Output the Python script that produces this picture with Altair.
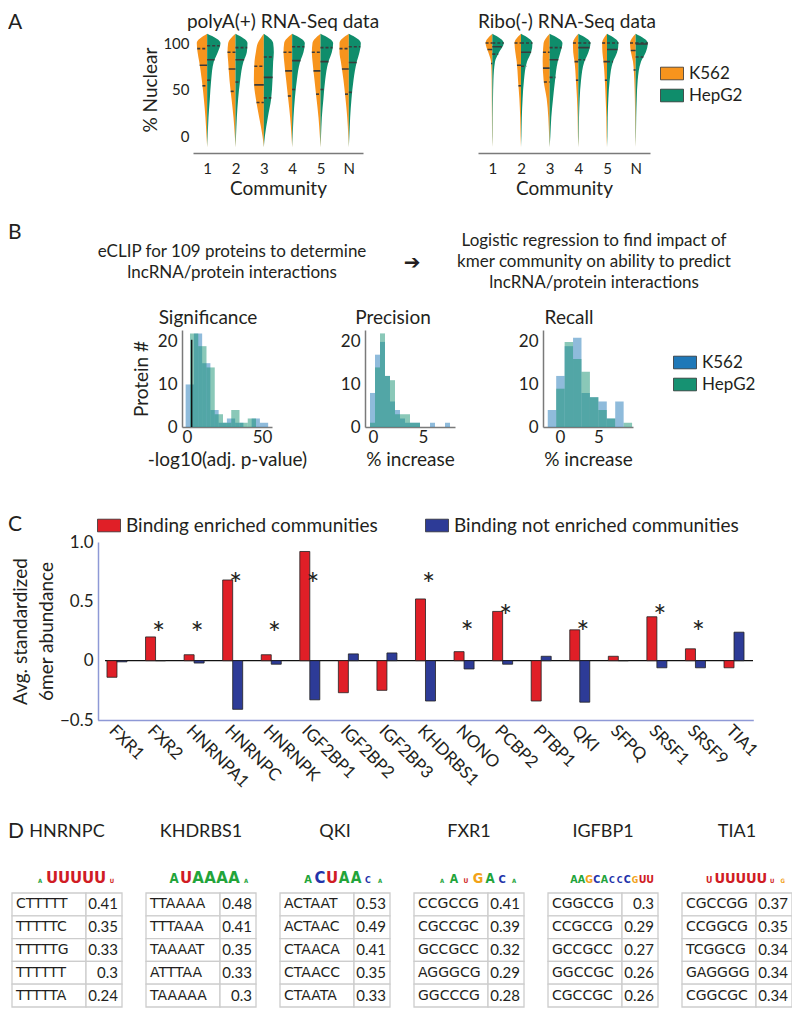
import altair as alt
import numpy as np
import pandas as pd

W, H = 784, 1000
FONT = "Lato"
INK = "#231f20"
ORANGE = "#f7941d"
GREEN = "#0f8d6b"
BLUE_B = "#1f78b8"
GREEN_B = "#169272"
RED_C = "#e01f27"
BLUE_C = "#2d3b97"
AXC = "#7a7a7a"
AXC_C = "#8e99d6"
RECT = "M-1,-0.55H1V0.55H-1Z"


def X(v):
    return v - 8


def Y(v):
    return v - 8


# ---------------- Panel A data ----------------
communities = [1, 2, 3, 4, 5, 6]
community_labels = ["1", "2", "3", "4", "5", "N"]
levels = [-12, 0, 20, 40, 60, 80, 90, 100, 110]

polyA_K562 = [
    [0, 0.05, 0.13, 0.25, 0.40, 0.60, 0.72, 0.78, 0],
    [0, 0.05, 0.15, 0.30, 0.45, 0.55, 0.60, 0.55, 0],
    [0, 0.10, 0.35, 0.60, 0.75, 0.70, 0.60, 0.45, 0],
    [0, 0.05, 0.15, 0.30, 0.45, 0.60, 0.65, 0.60, 0],
    [0, 0.05, 0.15, 0.30, 0.45, 0.60, 0.65, 0.60, 0],
    [0, 0.04, 0.12, 0.25, 0.40, 0.60, 0.70, 0.70, 0],
]
polyA_HepG2 = [
    [0, 0.04, 0.10, 0.20, 0.30, 0.50, 0.80, 1.00, 0],
    [0, 0.04, 0.10, 0.20, 0.35, 0.60, 0.85, 0.90, 0],
    [0, 0.08, 0.30, 0.55, 0.65, 0.70, 0.75, 0.70, 0],
    [0, 0.04, 0.10, 0.20, 0.35, 0.60, 0.85, 0.95, 0],
    [0, 0.04, 0.10, 0.22, 0.35, 0.60, 0.85, 0.95, 0],
    [0, 0.04, 0.10, 0.20, 0.35, 0.60, 0.80, 0.90, 0],
]
polyA_K562_q = [[54, 76, 94], [48, 72, 90], [36, 55, 75], [43, 70, 90], [45, 70, 90], [45, 72, 94]]
polyA_HepG2_q = [[60, 82, 97], [58, 82, 95], [41, 63, 85], [50, 81, 96], [50, 80, 95], [47, 79, 96]]

ribo_K562 = [
    [0, 0.02, 0.03, 0.04, 0.05, 0.10, 0.30, 0.50, 0],
    [0, 0.03, 0.06, 0.12, 0.22, 0.32, 0.42, 0.48, 0],
    [0, 0.04, 0.10, 0.22, 0.45, 0.52, 0.50, 0.45, 0],
    [0, 0.03, 0.05, 0.10, 0.18, 0.28, 0.38, 0.40, 0],
    [0, 0.03, 0.05, 0.10, 0.16, 0.26, 0.34, 0.36, 0],
    [0, 0.02, 0.04, 0.06, 0.10, 0.20, 0.35, 0.42, 0],
]
ribo_HepG2 = [
    [0, 0.02, 0.03, 0.05, 0.08, 0.20, 0.50, 0.85, 0],
    [0, 0.03, 0.06, 0.12, 0.22, 0.45, 0.75, 0.85, 0],
    [0, 0.05, 0.12, 0.25, 0.40, 0.60, 0.80, 0.95, 0],
    [0, 0.03, 0.05, 0.10, 0.20, 0.45, 0.75, 0.90, 0],
    [0, 0.03, 0.05, 0.10, 0.20, 0.45, 0.75, 0.85, 0],
    [0, 0.02, 0.04, 0.08, 0.15, 0.40, 0.75, 0.90, 0],
]
ribo_K562_q = [[78, 93, 100], [54, 76, 100], [58, 73, 90], [60, 80, 100], [60, 80, 100], [71, 92, 100]]
ribo_HepG2_q = [[88, 96, 100], [75, 90, 100], [63, 82, 95], [82, 95, 100], [80, 93, 100], [85, 99, 100]]

# ---------------- Panel B data ----------------
sig_edges_K562 = [-0.9, 4.6, 10.1, 15.6, 21.1, 26.6, 32.1, 37.6, 43.1, 48.6, 54.1]
sig_counts_K562 = [10, 22, 15, 4, 1, 2, 1, 0, 2, 1]
sig_edges_HepG2 = [2.0, 7.5, 13.0, 18.5, 24.0, 29.5, 35.0, 40.5, 46.0, 51.5]
sig_counts_HepG2 = [22, 19, 14, 3, 1, 4, 1, 2, 0]
sig_threshold = [3.1]
sig_threshold_height = [20.5]

prec_edges = [-0.3, 0.2, 0.7, 1.2, 1.7, 2.2, 2.7, 3.2, 3.7, 4.2, 4.7, 5.2, 5.7, 6.2, 6.7, 7.2, 7.7, 8.2]
prec_counts_K562 = [8, 17, 20, 12, 6, 4, 2, 1, 1, 1, 0, 0, 1, 0, 0, 1, 0]
prec_counts_HepG2 = [1, 14, 22, 12, 11, 3, 3, 3, 1, 1, 0, 0, 0, 0, 0, 0, 0]

rec_edges = [-1.6, -0.5, 0.6, 1.7, 2.8, 3.9, 5.0, 6.1, 7.2, 8.3, 9.4]
rec_counts_K562 = [4, 12, 19, 21, 8, 7, 6, 2, 6, 0]
rec_counts_HepG2 = [0, 9, 20, 16, 13, 7, 4, 2, 0, 1]

# ---------------- Panel C data ----------------
proteins = ["FXR1", "FXR2", "HNRNPA1", "HNRNPC", "HNRNPK", "IGF2BP1", "IGF2BP2", "IGF2BP3",
            "KHDRBS1", "NONO", "PCBP2", "PTBP1", "QKI", "SFPQ", "SRSF1", "SRSF9", "TIA1"]
enriched = [-0.14, 0.20, 0.05, 0.68, 0.05, 0.92, -0.27, -0.25, 0.52, 0.076, 0.415, -0.34,
            0.26, 0.037, 0.37, 0.10, -0.06]
not_enriched = [-0.01, 0.0, -0.02, -0.41, -0.03, -0.33, 0.057, 0.065, -0.34, -0.07, -0.03,
                0.037, -0.35, 0.0, -0.06, -0.06, 0.24]
star_proteins = ["FXR2", "HNRNPA1", "HNRNPC", "HNRNPK", "IGF2BP1", "KHDRBS1", "NONO", "PCBP2",
                 "QKI", "SRSF1", "SRSF9"]
star_levels = [0.28, 0.28, 0.70, 0.28, 0.70, 0.70, 0.29, 0.43, 0.29, 0.43, 0.29]

# ---------------- Panel D data ----------------
motif_proteins = ["HNRNPC", "KHDRBS1", "QKI", "FXR1", "IGFBP1", "TIA1"]
kmers = [
    ["CTTTTT", "TTTTTC", "TTTTTG", "TTTTTT", "TTTTTA"],
    ["TTAAAA", "TTTAAA", "TAAAAT", "ATTTAA", "TAAAAA"],
    ["ACTAAT", "ACTAAC", "CTAACA", "CTAACC", "CTAATA"],
    ["CCGCCG", "CGCCGC", "GCCGCC", "AGGGCG", "GGCCCG"],
    ["CGGCCG", "CCGCCG", "GCCGCC", "GGCCGC", "CGCCGC"],
    ["CGCCGG", "CCGGCG", "TCGGCG", "GAGGGG", "CGGCGC"],
]
kmer_scores = [
    [0.41, 0.35, 0.33, 0.3, 0.24],
    [0.48, 0.41, 0.35, 0.33, 0.3],
    [0.53, 0.49, 0.41, 0.35, 0.33],
    [0.41, 0.39, 0.32, 0.29, 0.28],
    [0.3, 0.29, 0.27, 0.26, 0.26],
    [0.37, 0.35, 0.34, 0.34, 0.34],
]
logo_letters = [
    ["A", "U", "U", "U", "U", "U", "U"],
    ["A", "U", "A", "A", "A", "A", "A"],
    ["A", "C", "U", "A", "A", "C", "A"],
    ["A", "A", "U", "G", "A", "C", "A"],
    ["A", "A", "G", "C", "A", "C", "C", "C", "G", "U", "U"],
    ["U", "U", "U", "U", "U", "U", "U", "G"],
]
logo_bits = [
    [0.35, 1.9, 1.9, 1.9, 1.9, 1.9, 0.35],
    [1.2, 1.7, 1.7, 1.6, 1.6, 1.5, 0.15],
    [1.0, 1.5, 1.6, 1.4, 1.4, 0.8, 0.15],
    [0.3, 1.1, 0.6, 1.3, 1.2, 1.0, 0.5],
    [1.8, 1.8, 1.8, 1.8, 1.8, 0.8, 0.8, 1.6, 0.8, 1.9, 1.9],
    [0.8, 1.7, 1.7, 1.7, 1.7, 1.5, 0.35, 0.35],
]


# ---------------- helpers ----------------
def txt(s, x, y, size, align="center", font=FONT, color=INK):
    return alt.Chart(pd.DataFrame({"s": [s]})).mark_text(
        align=align, baseline="middle", fontSize=size, font=font, color=color
    ).encode(x=alt.value(X(x)), y=alt.value(Y(y)), text="s:N")


def axis(**kw):
    base = dict(grid=False, ticks=False, labelFont=FONT, titleFont=FONT, labelColor=INK,
                titleColor=INK, titleFontWeight="normal", domainColor=AXC, domainWidth=1.5)
    base.update(kw)
    return alt.Axis(**base)


def rect_legend(x, yc, size):
    return alt.Legend(orient="none", legendX=X(x), legendY=Y(yc) - 11.5, title=None,
                      symbolType=RECT, symbolSize=529, symbolStrokeColor="#333",
                      symbolStrokeWidth=0.8, symbolOpacity=1, labelFontSize=size,
                      labelFont=FONT, labelColor=INK, labelOffset=5, padding=0,
                      rowPadding=2, labelLimit=400)


layers = []

# ---------------- Panel A ----------------
HALF = 0.47
colA = alt.Scale(domain=["K562", "HepG2"], range=[ORANGE, GREEN])


def violin_layers(k, h, kq, hq, x0, x1, show_y, legend):
    xs = alt.Scale(domain=[0.5, 6.5], range=[X(x0), X(x1)], nice=False, zero=False)
    ys = alt.Scale(domain=[0, 100], range=[Y(136), Y(43)], nice=False, zero=False)
    rows, qrows = [], []
    for i, c in enumerate(communities):
        for line, widths, qs, sgn in (("K562", k[i], kq[i], -1), ("HepG2", h[i], hq[i], 1)):
            for lev, w in zip(levels, widths):
                a, b = (c - w * HALF, c) if sgn < 0 else (c, c + w * HALF)
                rows.append(dict(vid=f"{c}{line}", line=line, lev=lev, xa=a, xb=b))
            for j, q in enumerate(qs):
                w = float(np.interp(q, levels, widths)) * HALF
                a, b = (c - w, c) if sgn < 0 else (c, c + w)
                qrows.append(dict(lev=q, xa=a, xb=b, kind="median" if j == 1 else "quartile"))
    df = pd.DataFrame(rows)
    qdf = pd.DataFrame(qrows)
    xaxis = axis(orient="bottom", offset=Y(153) - H, values=communities,
                 labelExpr="datum.value == 6 ? 'N' : datum.label", title="Community",
                 labelFontSize=15, titleFontSize=19, labelPadding=8, titlePadding=3)
    yaxis = None
    if show_y:
        yaxis = axis(orient="left", offset=-X(x0), values=[0, 50, 100], domain=False,
                     labelFontSize=15, labelPadding=4, title="% Nuclear", titleFontSize=19,
                     titlePadding=2)
    area = alt.Chart(df).mark_area(orient="horizontal", interpolate="monotone").encode(
        y=alt.Y("lev:Q", scale=ys, axis=yaxis),
        x=alt.X("xa:Q", scale=xs, axis=xaxis),
        x2="xb:Q",
        color=alt.Color("line:N", scale=colA, legend=legend),
        detail="vid:N",
    )
    rules = alt.Chart(qdf).mark_rule(color="#3a3a3a", strokeWidth=1.6).encode(
        y=alt.Y("lev:Q", scale=ys, axis=None),
        x=alt.X("xa:Q", scale=xs, axis=None),
        x2="xb:Q",
        strokeDash=alt.StrokeDash("kind:N", scale=alt.Scale(domain=["median", "quartile"],
                                                            range=[[1, 0], [3, 2]]), legend=None),
    )
    return [area, rules]


layers += violin_layers(polyA_K562, polyA_HepG2, polyA_K562_q, polyA_HepG2_q, 193, 363, True, None)
layers += violin_layers(ribo_K562, ribo_HepG2, ribo_K562_q, ribo_HepG2_q, 478, 650, False,
                        rect_legend(660, 73, 17))
layers += [
    txt("A", 8, 23, 21, align="left"),
    txt("polyA(+) RNA-Seq data", 283, 22, 19),
    txt("Ribo(-) RNA-Seq data", 567, 22, 19),
]

# ---------------- Panel B ----------------
layers += [
    txt("B", 8, 233, 21, align="left"),
    txt("eCLIP for 109 proteins to determine", 232, 252, 17),
    txt("lncRNA/protein interactions", 232, 273, 17),
    txt("\u2794", 412, 263, 20, font="DejaVu Sans"),
    txt("Logistic regression to find impact of", 594, 241, 17),
    txt("kmer community on ability to predict", 594, 262, 17),
    txt("lncRNA/protein interactions", 594, 283, 17),
    txt("Significance", 208, 318, 19),
    txt("Precision", 393, 318, 19),
    txt("Recall", 569, 318, 19),
]

colB = alt.Scale(domain=["K562", "HepG2"], range=[BLUE_B, GREEN_B])
ysB = alt.Scale(domain=[0, 22.8], range=[Y(427), Y(330)], nice=False, zero=False)


def hist_frame(ek, ck, eh, ch):
    rows = []
    for a, b, n in zip(ek[:-1], ek[1:], ck):
        rows.append(dict(line="K562", a=a, b=b, n=n, z=0))
    for a, b, n in zip(eh[:-1], eh[1:], ch):
        rows.append(dict(line="HepG2", a=a, b=b, n=n, z=0))
    return pd.DataFrame(rows)


def hist_layer(df, x0, x1, dom, xvals, xtitle, ytitle, legend):
    xs = alt.Scale(domain=dom, range=[X(x0), X(x1)], nice=False, zero=False)
    xaxis = axis(orient="bottom", offset=Y(427) - H, values=xvals, labelFontSize=17,
                 labelPadding=2, title=xtitle, titleFontSize=19, titlePadding=5)
    yargs = dict(orient="left", offset=-X(x0), values=[0, 10, 20], labelFontSize=17,
                 labelPadding=5)
    if ytitle:
        yargs.update(title=ytitle, titleFontSize=19, titlePadding=6)
    else:
        yargs.update(title=None)
    ch = alt.Chart(df).mark_rect(opacity=0.5).encode(
        x=alt.X("a:Q", scale=xs, axis=xaxis),
        x2="b:Q",
        y=alt.Y("n:Q", scale=ysB, axis=axis(**yargs)),
        y2="z:Q",
        color=alt.Color("line:N", scale=colB, legend=legend),
    )
    return ch, xs


sig_df = hist_frame(sig_edges_K562, sig_counts_K562, sig_edges_HepG2, sig_counts_HepG2)
sig_chart, sig_xs = hist_layer(sig_df, 182, 272, [-3.33, 56.67], [0, 50],
                               "-log10(adj. p-value)", "Protein #", None)
prec_df = hist_frame(prec_edges, prec_counts_K562, prec_edges, prec_counts_HepG2)
prec_chart, _ = hist_layer(prec_df, 365, 455, [-0.8, 8.2], [0, 5], "% increase", None, None)
rec_df = hist_frame(rec_edges, rec_counts_K562, rec_edges, rec_counts_HepG2)
rec_chart, _ = hist_layer(rec_df, 543, 633, [-2.22, 9.52], [0, 5], "% increase", None,
                          rect_legend(673, 362, 17))
thr = alt.Chart(pd.DataFrame({"x": sig_threshold, "y0": [0], "y1": sig_threshold_height})).mark_rule(
    color="#111", strokeWidth=1.5
).encode(x=alt.X("x:Q", scale=sig_xs, axis=None), y=alt.Y("y0:Q", scale=ysB, axis=None), y2="y1:Q")
layers += [sig_chart, thr, prec_chart, rec_chart]

# ---------------- Panel C ----------------
ysC = alt.Scale(domain=[-0.5, 1.0], range=[Y(720), Y(542)], nice=False, zero=False)
PI = 1 - 10 / 38.56


def band_scale(shift, pad=True):
    if pad:
        return alt.Scale(domain=proteins, range=[X(97.7 + shift), X(753.3 + shift)],
                         paddingInner=PI, paddingOuter=PI / 2)
    return alt.Scale(domain=proteins, range=[X(97.7), X(753.3)], paddingInner=0, paddingOuter=0)


en_df = pd.DataFrame({"p": proteins, "v": enriched, "g": "Binding enriched communities"})
ne_df = pd.DataFrame({"p": proteins, "v": not_enriched, "g": "Binding not enriched communities"})
red = alt.Chart(en_df).mark_bar(stroke="#222", strokeWidth=0.8).encode(
    x=alt.X("p:N", scale=band_scale(-5), axis=None),
    y=alt.Y("v:Q", scale=ysC, axis=None),
    color=alt.Color("g:N", scale=alt.Scale(domain=["Binding enriched communities"], range=[RED_C]),
                    legend=rect_legend(97, 525, 19)),
)
blue = alt.Chart(ne_df).mark_bar(stroke="#222", strokeWidth=0.8).encode(
    x=alt.X("p:N", scale=band_scale(5), axis=None),
    y=alt.Y("v:Q", scale=ysC, axis=None),
    color=alt.Color("g:N", scale=alt.Scale(domain=["Binding not enriched communities"], range=[BLUE_C]),
                    legend=rect_legend(425, 525, 19)),
)
zero = alt.Chart(pd.DataFrame({"z": [0]})).mark_rule(color="#111", strokeWidth=1.2).encode(
    y=alt.Y("z:Q", scale=ysC, axis=None), x=alt.value(X(105)), x2=alt.value(X(753))
)
stars = alt.Chart(pd.DataFrame({"p": star_proteins, "v": star_levels})).mark_text(
    text="*", fontSize=31, font=FONT, color=INK, dx=3, dy=8, baseline="middle"
).encode(
    x=alt.X("p:N", scale=band_scale(0, pad=False),
            axis=axis(orient="bottom", offset=Y(720) - H, labelAngle=45, labelAlign="left",
                      labelBaseline="top", labelFontSize=17, labelPadding=2, title=None,
                      domainColor=AXC_C)),
    y=alt.Y("v:Q", scale=ysC,
            axis=axis(orient="left", offset=-X(98), values=[-0.5, 0, 0.5, 1],
                      labelExpr="datum.value == 0 ? '0' : format(datum.value, '.1f')",
                      labelFontSize=17, labelPadding=5,
                      title=["Avg. standardized", "6mer abundance"], titleFontSize=19,
                      titlePadding=3, titleLineHeight=26, domainColor=AXC_C)),
)
layers += [zero, red, blue, stars, txt("C", 8, 525, 21, align="left")]

# ---------------- Panel D ----------------
TS, TW, KW = 134.0, 110.0, 74.0
xsD = alt.Scale(domain=[0, 6], range=[X(12), X(12) + 6 * TS], nice=False, zero=False)
rows_idx = [0, 1, 2, 3, 4]
ysD_band = alt.Scale(type="band", domain=rows_idx, range=[Y(893), Y(1007)], paddingInner=0,
                     paddingOuter=0)
ysD_point = alt.Scale(type="point", domain=rows_idx, range=[Y(893), Y(1007)], padding=0.5)

cells, ktext, stext, titles, logo = [], [], [], [], []
for t in range(6):
    titles.append(dict(x=t + TW / (2 * TS), s=motif_proteins[t]))
    for r in rows_idx:
        cells.append(dict(x0=t, x1=t + KW / TS, r=r))
        cells.append(dict(x0=t + KW / TS, x1=t + TW / TS, r=r))
        ktext.append(dict(x=t, r=r, s=kmers[t][r]))
        stext.append(dict(x=t + TW / TS, r=r, s=str(kmer_scores[t][r])))
    n = len(logo_letters[t])
    slot = 84.0 / n
    for p, (L, b) in enumerate(zip(logo_letters[t], logo_bits[t])):
        logo.append(dict(x=t + (22 + (p + 0.5) * slot) / TS, L=L,
                         fs=max(6.0, min(b * 11.0, slot / 0.72))))

cell_layer = alt.Chart(pd.DataFrame(cells)).mark_rect(fill="white", stroke="#cdcdcd",
                                                      strokeWidth=1.3).encode(
    x=alt.X("x0:Q", scale=xsD, axis=None), x2="x1:Q",
    y=alt.Y("r:O", scale=ysD_band, axis=None),
)
k_layer = alt.Chart(pd.DataFrame(ktext)).mark_text(align="left", dx=4, fontSize=14,
                                                   font="DejaVu Sans", color=INK,
                                                   baseline="middle").encode(
    x=alt.X("x:Q", scale=xsD, axis=None), y=alt.Y("r:O", scale=ysD_point, axis=None), text="s:N"
)
s_layer = alt.Chart(pd.DataFrame(stext)).mark_text(align="right", dx=-4, fontSize=15, font=FONT,
                                                   color=INK, baseline="middle").encode(
    x=alt.X("x:Q", scale=xsD, axis=None), y=alt.Y("r:O", scale=ysD_point, axis=None), text="s:N"
)
t_layer = alt.Chart(pd.DataFrame(titles)).mark_text(fontSize=18, font=FONT, color=INK,
                                                    baseline="middle").encode(
    x=alt.X("x:Q", scale=xsD, axis=None), y=alt.value(Y(832)), text="s:N"
)
logo_layer = alt.Chart(pd.DataFrame(logo)).mark_text(
    baseline="alphabetic", fontWeight="bold",
    font="DejaVu Sans Condensed, Liberation Sans Narrow, DejaVu Sans"
).encode(
    x=alt.X("x:Q", scale=xsD, axis=None), y=alt.value(Y(883)), text="L:N",
    size=alt.Size("fs:Q", scale=None, legend=None),
    color=alt.Color("L:N", scale=alt.Scale(domain=["A", "C", "G", "U"],
                                           range=["#22a43a", "#2233aa", "#f2a218", "#d01c24"]),
                    legend=None),
)
layers += [cell_layer, k_layer, s_layer, t_layer, logo_layer, txt("D", 8, 832, 21, align="left")]

chart = alt.layer(*layers).resolve_scale(
    x="independent", y="independent", color="independent", strokeDash="independent",
    size="independent"
).properties(
    width=W, height=H, autosize=alt.AutoSizeParams(type="none"), padding=0
).configure_view(stroke=None)

chart.save("out.html", embed_options={"renderer": "svg", "actions": False})
